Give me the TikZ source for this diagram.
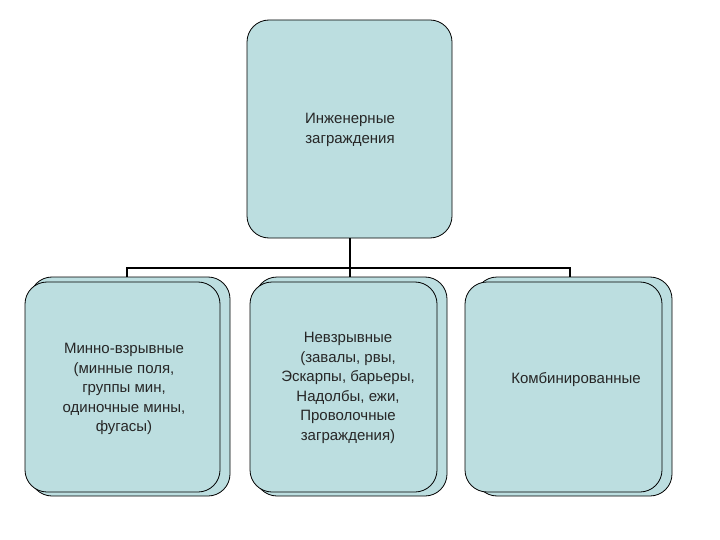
\documentclass[tikz,border=0pt]{standalone}
\usepackage{fontspec}
\setmainfont{Liberation Sans}
\definecolor{boxfill}{RGB}{188,222,224}
\begin{document}
\begin{tikzpicture}[x=1pt,y=-1pt,
  box/.style={draw=black,fill=boxfill,rounded corners=22pt,line width=0.8pt},
  lbl/.style={align=center,font=\fontsize{15}{19.5}\selectfont,text=black!85},
  wire/.style={line width=1.2pt}]
\useasboundingbox (0,0) rectangle (720,540);
% top
\draw[box] (247,20) rectangle (452,238);
\node[lbl] (top) at (350,130) {Инженерные\\ заграждения};
\coordinate (tb) at (350,238);
% back boxes
\draw[box] (30,277) rectangle (230,496);
\draw[box] (255,277) rectangle (447,496);
\draw[box] (475,277) rectangle (672,496);
% front boxes
\draw[box] (25,282) rectangle (220,492);
\draw[box] (250,282) rectangle (437,492);
\draw[box] (465,282) rectangle (662,492);
\node[lbl] (a) at (124,389) {Минно-взрывные\\ (минные поля,\\ группы мин,\\ одиночные мины,\\ фугасы)};
\node[lbl] (b) at (348,388) {Невзрывные\\ (завалы, рвы,\\ Эскарпы, барьеры,\\ Надолбы, ежи,\\ Проволочные\\ заграждения)};
\node[lbl] (c) at (576,380) {Комбинированные};
\coordinate (j) at (350,268);
\coordinate (l) at (127,268);
\coordinate (r) at (570,268);
\coordinate (la) at (127,277);
\coordinate (lb) at (350,277);
\coordinate (lc) at (570,277);
\draw[wire] (tb) -- (j);
\draw[wire] (la) -- (l) -- (r) -- (lc);
\draw[wire] (j) -- (lb);
\end{tikzpicture}
\end{document}
